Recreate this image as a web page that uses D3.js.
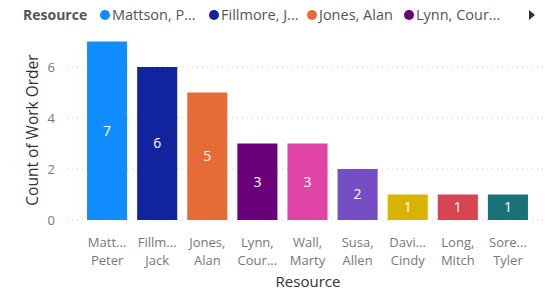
<!DOCTYPE html>
<html><head><meta charset="utf-8">
<script src="https://cdn.jsdelivr.net/npm/d3@7"></script>
<style>body{margin:0;background:#fff}svg{display:block}</style>
</head><body>
<svg id="c" width="550" height="291"></svg>
<script>
const categories = ["Mattson, Peter","Fillmore, Jack","Jones, Alan","Lynn, Courtney","Wall, Marty","Susa, Allen","Davis, Cindy","Long, Mitch","Sorensen, Tyler"];
const labelLine1 = ["Matt...","Fillm...","Jones,","Lynn,","Wall,","Susa,","Davi...","Long,","Sore..."];
const labelLine2 = ["Peter","Jack","Alan","Cour...","Marty","Allen","Cindy","Mitch","Tyler"];
const values = [7,6,5,3,3,2,1,1,1];
const colors = ["#118DFF","#12239E","#E66C37","#6B007B","#E044A7","#744EC2","#D9B300","#D64550","#197278"];
const yTicks = [0,2,4,6];
const legendItems = ["Mattson, P...","Fillmore, J...","Jones, Alan","Lynn, Cour..."];

const font = "'Segoe UI','Open Sans','Noto Sans',sans-serif";
const svg = d3.select("#c");
const x = d3.scaleBand().domain(categories).range([67,548]).paddingInner(0.2).paddingOuter(0.4);
const y = d3.scaleLinear().domain([0,7]).range([220,41.5]);

// gridlines
svg.append("g").selectAll("line").data(yTicks).join("line")
  .attr("x1",67).attr("x2",546).attr("y1",d=>y(d)).attr("y2",d=>y(d))
  .attr("stroke","#c8c8c8").attr("stroke-dasharray","1,4").attr("stroke-width",1);

// y ticks
svg.append("g").selectAll("text").data(yTicks).join("text")
  .attr("x",55).attr("y",d=>y(d)).attr("dy","0.35em").attr("text-anchor","end")
  .attr("font-family",font).attr("font-size",13).attr("fill","#777").text(d=>d);

// y title
svg.append("text").attr("transform","translate(38,130) rotate(-90)")
  .attr("text-anchor","middle").attr("font-family",font).attr("font-size",15.5)
  .attr("fill","#333").text("Count of Work Order");

// bars
svg.append("g").selectAll("rect").data(categories).join("rect")
  .attr("x",d=>x(d)).attr("width",x.bandwidth())
  .attr("y",(d,i)=>y(values[i])).attr("height",(d,i)=>y(0)-y(values[i]))
  .attr("fill",(d,i)=>colors[i]);

// data labels
svg.append("g").selectAll("text").data(categories).join("text")
  .attr("x",d=>x(d)+x.bandwidth()/2).attr("y",(d,i)=>(y(values[i])+y(0))/2)
  .attr("dy","0.35em").attr("text-anchor","middle")
  .attr("font-family",font).attr("font-size",14).attr("fill","#fff")
  .text((d,i)=>values[i]);

// x labels
const xl = svg.append("g").selectAll("text").data(categories).join("text")
  .attr("text-anchor","middle").attr("font-family",font).attr("font-size",13).attr("fill","#777");
xl.append("tspan").attr("x",d=>x(d)+x.bandwidth()/2).attr("y",247).text((d,i)=>labelLine1[i]);
xl.append("tspan").attr("x",d=>x(d)+x.bandwidth()/2).attr("y",265).text((d,i)=>labelLine2[i]);

// x title
svg.append("text").attr("x",308).attr("y",287).attr("text-anchor","middle")
  .attr("font-family",font).attr("font-size",15).attr("fill","#333").text("Resource");

// legend
svg.append("text").attr("x",23).attr("y",20).attr("font-family",font).attr("font-size",14)
  .attr("font-weight","bold").attr("fill","#555").text("Resource");
const legX = [105,214,312,409];
const lg = svg.append("g").selectAll("g").data(legendItems).join("g")
  .attr("transform",(d,i)=>`translate(${legX[i]},15)`);
lg.append("circle").attr("r",5).attr("fill",(d,i)=>colors[i]);
lg.append("text").attr("x",7).attr("y",0).attr("dy","0.35em").attr("font-family",font)
  .attr("font-size",14.5).attr("fill","#555").text(d=>d);
// arrow
svg.append("path").attr("d","M529,10 L535,15 L529,20 Z").attr("fill","#333");
</script>
</body></html>
